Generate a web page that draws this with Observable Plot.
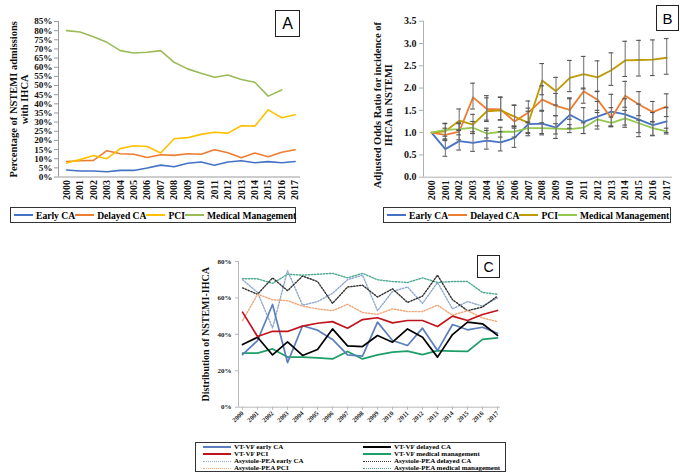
<!DOCTYPE html>
<html>
<head>
<meta charset="utf-8">
<script src="https://cdn.jsdelivr.net/npm/d3@7"></script>
<script src="https://cdn.jsdelivr.net/npm/@observablehq/plot@0.6"></script>
<style>
  body { margin: 0; background: #fff; }
  #root { position: relative; width: 680px; height: 473px; background: #fff; overflow: hidden; font-family: "Liberation Serif", "Times New Roman", serif; }
  .box { position: absolute; border: 1.3px solid #222; font-family: "Liberation Sans", Arial, sans-serif; display: flex; align-items: center; justify-content: center; box-sizing: border-box; background: #fff; }
  .legend { position: absolute; border: 1.3px solid #333; box-sizing: border-box; display: flex; align-items: center; justify-content: space-around; font-weight: bold; font-size: 9.6px; padding: 0 3px; background:#fff; }
  .legend .it { display: flex; align-items: center; white-space: nowrap; }
  .legend .sw { display: inline-block; width: 19px; height: 0; border-top: 2px solid; margin-right: 3px; }
  .legC { position: absolute; border: 1.3px solid #333; box-sizing: border-box; font-weight: bold; font-size: 7px; background:#fff; }
  .legC .row { position: absolute; display: flex; align-items: center; white-space: nowrap; height: 7px; line-height: 7px; }
  .legC .sw { display: inline-block; width: 28px; height: 0; margin-right: 3px; }
</style>
</head>
<body>
<div id="root"></div>
<script>
// ---------- data ----------
const years = [2000,2001,2002,2003,2004,2005,2006,2007,2008,2009,2010,2011,2012,2013,2014,2015,2016,2017];

// Panel A: percentage of NSTEMI admissions with IHCA
const aSeriesNames = ["Early CA","Delayed CA","PCI","Medical Management"];
const aEarly   = [3.8,3.3,3.3,2.9,3.6,3.6,4.9,6.5,5.6,7.5,8.2,6.4,8.2,8.9,7.8,8.4,7.8,8.5];
const aDelayed = [8.5,8.9,9.1,14.4,12.7,12.4,10.7,12.2,11.8,12.7,12.4,14.9,13.3,10.5,13.1,11.1,13.5,14.9];
const aPCI     = [7.6,9.5,11.8,10.0,15.5,17.1,16.7,13.1,20.9,21.5,23.3,24.5,24.0,28.0,27.8,36.7,32.4,34.0];
const aMM      = [80.0,79.3,76.7,73.6,69.1,67.8,68.2,69.1,62.7,59.1,56.7,54.5,55.8,53.3,51.8,44.2,47.6,null];
const aTicks   = [0,5,10,15,20,25,30,35,40,45,50,55,60,65,70,75,80,85];
const aTitle   = ["Percentage of NSTEMI admissions", "with IHCA"];

// Panel B: adjusted odds ratios with confidence limits
const bEarly     = [1.00,0.63,0.81,0.77,0.82,0.78,0.88,1.19,1.20,1.11,1.40,1.24,1.36,1.47,1.41,1.29,1.17,1.25];
const bEarlyLo   = [null,0.47,0.61,0.58,0.63,0.59,0.67,0.93,0.95,0.87,1.10,0.98,1.08,1.15,1.12,1.00,0.94,1.00];
const bEarlyHi   = [null,0.84,1.06,1.02,1.05,1.02,1.13,1.48,1.50,1.38,1.76,1.56,1.70,1.86,1.76,1.64,1.45,1.56];
const bDelayed   = [1.00,0.95,1.02,1.79,1.53,1.52,1.25,1.45,1.74,1.60,1.51,1.93,1.74,1.33,1.83,1.63,1.46,1.59];
const bDelayedLo = [null,0.82,0.84,1.53,1.28,1.29,1.10,1.24,1.48,1.38,1.30,1.66,1.50,1.14,1.57,1.38,1.24,1.36];
const bDelayedHi = [null,1.10,1.22,2.11,1.83,1.80,1.62,1.71,2.05,1.88,1.78,2.00,1.93,1.56,2.15,1.92,1.70,1.87];
const bPCI       = [1.00,1.03,1.27,1.18,1.48,1.50,1.36,1.22,2.17,1.93,2.23,2.31,2.24,2.40,2.62,2.63,2.64,2.68];
const bPCILo     = [null,0.86,1.05,0.98,1.25,1.28,1.15,1.00,1.85,1.62,1.92,1.98,1.92,2.06,2.26,2.27,2.28,2.31];
const bPCIHi     = [null,1.21,1.53,1.41,1.78,1.79,1.61,1.55,2.55,2.24,2.62,2.71,2.61,2.79,3.05,3.07,3.08,3.11];
const bMM        = [1.00,1.06,1.08,1.11,0.98,1.02,1.02,1.10,1.10,1.09,1.08,1.11,1.30,1.22,1.32,1.21,1.10,1.03];
const bMMLo      = [null,0.92,0.95,0.98,0.88,0.90,0.90,0.98,0.98,0.97,1.00,0.98,1.15,1.13,1.17,0.91,0.93,0.97];
const bMMHi      = [null,1.20,1.20,1.25,1.10,1.12,1.14,1.22,1.22,1.20,1.18,1.22,1.45,1.35,1.50,1.28,1.25,1.10];
const bTicks     = [0,0.5,1,1.5,2,2.5,3,3.5];
const bTitle     = ["Adjusted Odds Ratio for incidence of", "IHCA in NSTEMI"];

// Panel C: distribution of NSTEMI-IHCA (%)
const cNames = ["VT-VF early CA","VT-VF delayed CA","VT-VF PCI","VT-VF medical management",
                "Asystole-PEA early CA","Asystole-PEA delayed CA","Asystole-PEA PCI","Asystole-PEA medical management"];
const cVfEarly   = [28.9,36.6,56.4,24.5,44.7,42.3,37.2,28.7,28.0,46.7,36.6,33.9,43.4,31.1,45.4,42.5,43.9,40.6];
const cVfDelayed = [34.4,38.4,28.7,35.9,28.4,31.7,43.0,33.7,33.3,39.4,35.7,43.0,38.4,27.5,39.9,46.7,45.8,39.4];
const cVfPCI     = [52.2,38.8,41.7,41.6,44.5,46.1,47.0,43.4,48.1,49.1,46.3,47.6,47.6,44.3,50.0,47.6,50.9,53.1];
const cVfMM      = [29.7,29.7,32.0,27.5,27.5,27.1,26.5,30.6,26.5,28.7,30.2,30.8,28.9,31.1,30.8,30.6,37.2,38.1];
const cApEarly   = [70.0,63.0,43.5,75.0,56.0,58.0,62.5,70.0,72.5,53.0,63.5,66.0,57.0,68.5,54.0,58.0,55.5,60.0];
const cApDelayed = [65.5,62.0,71.0,64.0,72.0,69.0,57.0,66.0,67.0,60.5,65.0,57.5,61.0,72.5,59.0,53.0,55.0,61.0];
const cApPCI     = [47.5,62.0,59.0,58.5,55.5,54.0,53.0,56.5,52.0,51.0,54.0,52.5,52.5,56.0,50.5,53.0,49.0,47.0];
const cApMM      = [70.5,70.5,68.0,73.0,72.5,73.0,73.5,71.0,73.5,70.0,69.0,68.5,71.0,68.5,69.0,69.0,63.0,62.0];
const cTicks     = [0,20,40,60,80];

// ---------- styles ----------
const aColors = ["#4472C4","#ED7D31","#FFC000","#9BBB59"];
const bColors = ["#4472C4","#ED7D31","#BF9A00","#92C94E"];
const cColors = ["#5B7FBC","#000000","#C0141C","#1E9E68","#8EA9CC","#333333","#F0A77A","#49A98F"];
const serif = "Liberation Serif, Times New Roman, serif";
const root = document.getElementById("root");

function place(el, left, top) {
  el.style.position = "absolute"; el.style.left = left + "px"; el.style.top = top + "px";
  root.appendChild(el);
}
function seriesRows(names, arrays) {
  const rows = [];
  names.forEach((n, i) => years.forEach((y, j) => rows.push({series: n, year: y, value: arrays[i][j]})));
  return rows;
}
function titleLine(t, dx, dy, fs) {
  return Plot.text([t], {text: d => d, frameAnchor: "left", textAnchor: "middle", dx, dy, rotate: -90, fontSize: fs, fontWeight: "bold", fill: "#111"});
}

// ---------- Panel A ----------
const aArrays = [aEarly, aDelayed, aPCI, aMM];
const aRows = seriesRows(aSeriesNames, aArrays).filter(d => d.value != null);
const plotA = Plot.plot({
  width: 330, height: 205,
  marginLeft: 58, marginRight: 30, marginTop: 21, marginBottom: 28.5,
  style: {fontFamily: serif, fontWeight: "bold", fontSize: "10px", background: "transparent"},
  x: {domain: [1999.4, 2017.4], axis: null},
  y: {domain: [0, 85], axis: null},
  marks: [
    Plot.ruleY([0], {stroke: "#9a9a9a"}),
    Plot.ruleX([1999.4], {stroke: "#9a9a9a"}),
    Plot.axisY({ticks: aTicks, label: null, tickFormat: d => d + "%", tickSize: 4, tickPadding: 2, stroke: "#9a9a9a", fill: "#111", fontSize: 9.2}),
    Plot.axisX({ticks: years, label: null, tickFormat: "d", tickRotate: -90, tickSize: 0, tickPadding: 3, fill: "#111"}),
    ...aSeriesNames.map((n, i) => Plot.lineY(aRows.filter(d => d.series === n), {x: "year", y: "value", stroke: aColors[i], strokeWidth: 1.6})),
    titleLine(aTitle[0], -45, 0, 10.5),
    titleLine(aTitle[1], -34, 0, 10.5)
  ]
});
place(plotA, 0, 0);

// ---------- Panel B ----------
const bVals = [bEarly, bDelayed, bPCI, bMM];
const bLos = [bEarlyLo, bDelayedLo, bPCILo, bMMLo];
const bHis = [bEarlyHi, bDelayedHi, bPCIHi, bMMHi];
const bRows = [];
aSeriesNames.forEach((n, i) => years.forEach((y, j) => bRows.push({series: n, year: y, value: bVals[i][j], lo: bLos[i][j], hi: bHis[i][j]})));
const bErr = bRows.filter(d => d.lo != null);
const plotB = Plot.plot({
  width: 340, height: 205,
  marginLeft: 83, marginRight: 8, marginTop: 20.7, marginBottom: 28.3,
  style: {fontFamily: serif, fontWeight: "bold", fontSize: "10px", background: "transparent"},
  x: {domain: [1999.42, 2017.42], axis: null},
  y: {domain: [0, 3.5], axis: null},
  marks: [
    Plot.ruleY([0], {stroke: "#b0b0b0"}),
    Plot.ruleX([1999.42], {stroke: "#b0b0b0"}),
    Plot.axisY({ticks: bTicks, label: null, tickFormat: d3.format(".1f"), tickSize: 4, tickPadding: 3, stroke: "#b0b0b0", fill: "#111"}),
    Plot.axisX({ticks: years, label: null, tickFormat: "d", tickRotate: -90, tickSize: 0, tickPadding: 3, fill: "#111"}),
    ...aSeriesNames.map((n, i) => Plot.lineY(bRows.filter(d => d.series === n), {x: "year", y: "value", stroke: bColors[i], strokeWidth: 1.8})),
    Plot.ruleX(bErr, {x: "year", y1: "lo", y2: "hi", stroke: "#7a7a7a", strokeWidth: 1.1}),
    Plot.ruleY(bErr, {y: "lo", x1: d => d.year - 0.17, x2: d => d.year + 0.17, stroke: "#555", strokeWidth: 1.1}),
    Plot.ruleY(bErr, {y: "hi", x1: d => d.year - 0.17, x2: d => d.year + 0.17, stroke: "#555", strokeWidth: 1.1}),
    titleLine(bTitle[0], -46, 6, 10.5),
    titleLine(bTitle[1], -35, 6, 10.5)
  ]
});
place(plotB, 340, 0);

// ---------- Panel C ----------
const cArrays = [cVfEarly, cVfDelayed, cVfPCI, cVfMM, cApEarly, cApDelayed, cApPCI, cApMM];
const cRows = seriesRows(cNames, cArrays);
const cOrder = [7, 4, 5, 6, 3, 0, 1, 2];
const plotC = Plot.plot({
  width: 320, height: 200,
  marginLeft: 48, marginRight: 10, marginTop: 21, marginBottom: 33.3,
  style: {fontFamily: serif, fontWeight: "bold", fontSize: "7px", background: "transparent"},
  x: {domain: [1999.73, 2017.2], axis: null},
  y: {domain: [0, 80], axis: null},
  marks: [
    Plot.ruleY([0], {stroke: "#b8b8b8"}),
    Plot.ruleX([1999.73], {stroke: "#b8b8b8"}),
    Plot.axisY({ticks: cTicks, label: null, tickFormat: d => d + "%", tickSize: 3, tickPadding: 4, stroke: "#b8b8b8", fill: "#222"}),
    Plot.axisX({ticks: years, label: null, tickFormat: "d", tickRotate: -45, tickSize: 3, tickPadding: 2, stroke: "#b8b8b8", fill: "#222", fontSize: 6.5}),
    ...cOrder.map(i => Plot.lineY(cRows.filter(d => d.series === cNames[i]), {
      x: "year", y: "value", stroke: cColors[i],
      strokeWidth: i < 4 ? 1.7 : 1.4,
      strokeDasharray: i < 4 ? null : "1.4,1.6"
    })),
    titleLine("Distribution of NSTEMI-IHCA", -33, 0, 10)
  ]
});
place(plotC, 190, 240);

// ---------- panel letters ----------
function letterBox(t, l, tp, w, h, fs) {
  const d = document.createElement("div");
  d.className = "box"; d.textContent = t;
  d.style.left = l + "px"; d.style.top = tp + "px"; d.style.width = w + "px"; d.style.height = h + "px"; d.style.fontSize = fs + "px";
  root.appendChild(d);
}
letterBox("A", 275, 10, 25, 27, 16);
letterBox("B", 656, 5, 23, 26, 15);
letterBox("C", 477, 255, 23, 23, 14);

// ---------- legends A and B ----------
function legend(left, top, width, colors) {
  const d = document.createElement("div");
  d.className = "legend";
  d.style.left = left + "px"; d.style.top = top + "px"; d.style.width = width + "px"; d.style.height = "16px";
  aSeriesNames.forEach((n, i) => {
    const it = document.createElement("span"); it.className = "it";
    const sw = document.createElement("span"); sw.className = "sw"; sw.style.borderTopColor = colors[i];
    const tx = document.createElement("span"); tx.textContent = n;
    it.appendChild(sw); it.appendChild(tx); d.appendChild(it);
  });
  root.appendChild(d);
}
legend(10, 207, 286, aColors);
legend(383, 207, 288, bColors);

// ---------- legend C ----------
const lc = document.createElement("div");
lc.className = "legC";
lc.style.left = "195px"; lc.style.top = "442px"; lc.style.width = "311px"; lc.style.height = "30px";
cNames.forEach((n, i) => {
  const col = i % 2, row = Math.floor(i / 2);
  const r = document.createElement("div"); r.className = "row";
  r.style.left = (col === 0 ? 7 : 167) + "px";
  r.style.top = (0.5 + row * 7.2) + "px";
  const sw = document.createElement("span"); sw.className = "sw";
  sw.style.borderTop = (i < 4 ? "2px solid " : "1.3px dotted ") + cColors[i];
  const tx = document.createElement("span"); tx.textContent = n;
  r.appendChild(sw); r.appendChild(tx); lc.appendChild(r);
});
root.appendChild(lc);
</script>
</body>
</html>
